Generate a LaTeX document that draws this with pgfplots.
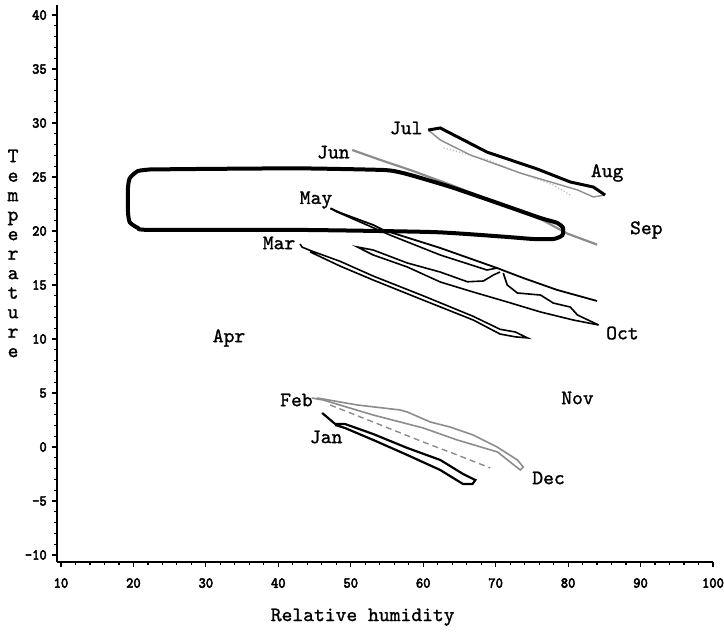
\documentclass[border=0pt]{standalone}
\usepackage{fontspec}
\setmainfont{Latin Modern Mono}
\newfontfamily\lbl[FakeBold=1.2]{Latin Modern Mono}
\newfontfamily\tkl[FakeBold=3,FakeStretch=0.9]{Latin Modern Mono}
\usepackage{pgfplots}
\pgfplotsset{compat=1.18}
\definecolor{lgray}{gray}{0.55}
\definecolor{fgray}{gray}{0.72}

\begin{document}
\begin{tikzpicture}[x=1pt,y=1pt]
\useasboundingbox (-28.5,-35.5) rectangle (333.5,281);
\begin{axis}[
  at={(0,0)}, anchor=south west,
  scale only axis, width=328pt, height=278.5pt,
  xmin=9.45, xmax=100, ymin=-10.65, ymax=40.93,
  axis lines=left,
  x axis line style={-, line width=0.9pt},
  y axis line style={-, line width=0.6pt},
  xtick={10,20,...,100}, ytick={-10,-5,...,40},
  minor x tick num=4, minor y tick num=4,
  tick align=outside,
  major tick length=2.6pt, minor tick length=1.4pt,
  tick style={black, line width=0.6pt},
  /pgf/number format/assume math mode=true,
  tick label style={font=\tkl\fontsize{7.6}{7.6}\selectfont},
  xticklabel style={yshift=-2pt},
  yticklabel style={xshift=1pt},
  no markers,
  clip=false,
]
% winter loops (Feb / Dec)
\addplot[lgray, line width=0.8pt] coordinates {
 (45.36,4.54) (50.9,3.89) (56.8,3.43) (57.8,3.24) (61.0,2.31) (63.7,1.85)
 (66.9,1.11) (70.2,0.0) (73.0,-1.2) (73.8,-1.85) (73.4,-2.13) (72.7,-1.76)};
\addplot[lgray, line width=0.8pt] coordinates {
 (44.6,4.54) (46.2,4.35) (53.1,2.96) (60.0,1.76) (64.7,0.65) (70.25,-0.46) (72.7,-1.76)};
\addplot[lgray, line width=0.7pt, densely dashed] coordinates {
 (47.15,3.89) (53.1,2.31) (60.0,0.46) (64.7,-0.74) (69.25,-1.94)};
% Jan
\addplot[black, line width=1.1pt] coordinates {
 (46.05,3.15) (47.85,2.13) (49.2,2.13) (53.1,1.2) (57.8,-0.09) (62.35,-1.2)
 (65.5,-2.5) (67.2,-3.06) (66.8,-3.43) (65.5,-3.43) (62.35,-2.13) (57.8,-0.74)
 (53.1,0.65) (49.2,1.76) (47.85,2.04)};
% Mar
\addplot[black, line width=0.8pt] coordinates {
 (43.0,18.8) (43.3,18.5) (44.4,18.2) (48.5,17.2) (53.1,15.83) (60.0,14.0)
 (66.9,12.1) (70.6,10.9) (72.7,10.65) (74.4,10.1) (72.7,10.2) (70.6,10.46)
 (66.9,11.76) (60.0,13.6) (53.1,15.46) (48.5,16.76) (44.4,18.06)};
% middle group (to Oct)
\addplot[black, line width=0.8pt] coordinates {
 (70.6,16.2) (69.7,15.93) (68.3,15.37) (66.1,15.3) (62.35,16.2) (57.8,17.04)
 (53.1,18.24) (50.9,18.52) (53.1,17.78) (57.8,16.67) (62.35,15.28) (66.9,14.35)
 (71.6,13.43) (76.2,12.5) (80.7,11.76) (84.2,11.3)};
\addplot[black, line width=0.8pt] coordinates {
 (71.05,16.11) (71.6,15.0) (73.0,14.26) (76.2,14.07) (77.95,13.33) (80.3,12.96)
 (81.3,12.22) (84.2,11.3)};
% May
\addplot[black, line width=0.9pt] coordinates {
 (47.2,22.1) (48.5,21.7) (53.1,20.56) (54.5,20.09) (62.35,18.43) (70.2,16.57)
 (73.8,15.65) (78.5,14.54) (84.0,13.52)};
\addplot[black, line width=0.8pt] coordinates {
 (47.2,22.1) (48.0,21.8) (55.4,19.63) (62.35,17.78) (68.8,16.39) (70.2,16.57)};
% faint dotted line
\addplot[fgray, line width=0.6pt, densely dotted] coordinates {
 (62.8,27.7) (68.8,26.6) (73.4,25.37) (77.95,24.26) (80.3,23.33)};
% Jul
\addplot[lgray, line width=0.7pt] coordinates {
 (60.7,29.35) (62.35,28.43) (66.5,27.04) (73.4,25.37) (81.3,23.8) (83.5,23.15) (85.1,23.33)};
\addplot[black, line width=1.5pt] coordinates {
 (60.7,29.35) (62.35,29.54) (68.8,27.31) (75.75,25.74) (80.3,24.54) (83.5,24.07) (85.1,23.33)};
% Jun
\addplot[lgray, line width=1.1pt] coordinates {
 (50.2,27.5) (54.0,26.6) (58.2,25.65) (63.7,24.3) (68.3,23.1) (73.0,22.0)
 (76.5,21.0) (79.9,19.76) (84.0,18.74)};
% thick loop
\addplot[black, line width=2pt, smooth, tension=0.35] coordinates {
 (22.3,25.7) (30,25.75) (43.0,25.8) (54.5,25.65) (57.0,25.4) (59.2,25.0)
 (63.7,24.1) (68.3,23.05) (73.0,21.95) (76.2,21.2) (78.5,20.75) (79.3,20.3)
 (79.2,19.6) (78.0,19.26) (75.2,19.26) (70.6,19.5) (61.4,19.9) (43.0,20.1)
 (22.3,20.1) (20.6,20.3) (19.5,20.8) (19.25,21.75) (19.25,24.0) (19.5,24.9)
 (20.6,25.55) (22.3,25.7)};
% month labels
\begin{scope}[every node/.style={font=\lbl\fontsize{10.3}{10.3}\selectfont}]
\node at (axis cs:57.65,29.54) {Jul};
\node at (axis cs:47.6,27.3) {Jun};
\node at (axis cs:45.2,22.87) {May};
\node at (axis cs:40.1,18.89) {Mar};
\node at (axis cs:85.4,25.37) {Aug};
\node at (axis cs:90.8,20.09) {Sep};
\node at (axis cs:87.5,10.55) {Oct};
\node at (axis cs:33.2,10.09) {Apr};
\node at (axis cs:81.3,4.54) {Nov};
\node at (axis cs:42.5,4.35) {Feb};
\node at (axis cs:46.6,0.93) {Jan};
\node at (axis cs:77.3,-2.87) {Dec};
\end{scope}
\node[font=\lbl\fontsize{10.3}{9.75}\selectfont, align=center]
  at (axis description cs:-0.067,0.554) {T\\e\\m\\p\\e\\r\\a\\t\\u\\r\\e};
\node[font=\lbl\fontsize{10.3}{10.3}\selectfont]
  at (axis description cs:0.466,-0.099) {Relative humidity};
\end{axis}
\end{tikzpicture}
\end{document}
